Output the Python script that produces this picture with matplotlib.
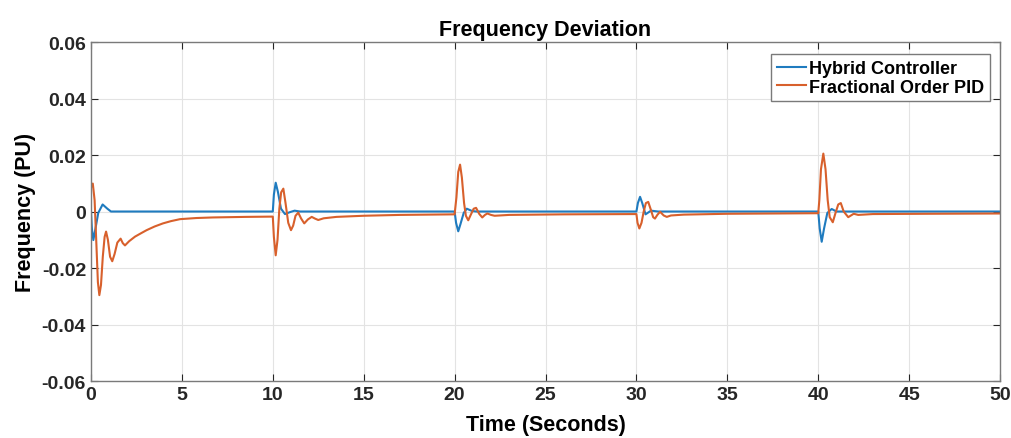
import matplotlib.pyplot as plt

# Hybrid controller response (time in s, deviation in PU)
t_hybrid = [0, 0.05, 0.13, 0.22, 0.4, 0.64, 0.9, 1.1,
            10.0, 10.06, 10.16, 10.28, 10.45, 10.67, 10.95, 11.2, 11.5,
            20.0, 20.08, 20.2, 20.32, 20.5, 20.67, 20.95, 21.2,
            30.0, 30.08, 30.2, 30.32, 30.5, 30.8, 31.2,
            40.0, 40.08, 40.19, 40.32, 40.5, 40.74, 41.0, 41.3, 50.0]
f_hybrid = [0, -0.006, -0.0101, -0.007, -0.0005, 0.0025, 0.001, 0,
            0, 0.006, 0.0102, 0.007, 0.001, -0.0009, -0.0002, 0.0003, 0,
            0, -0.004, -0.007, -0.0045, -0.0005, 0.001, 0.0002, 0,
            0, 0.003, 0.0052, 0.003, -0.001, 0.0003, 0,
            0, -0.006, -0.0107, -0.006, -0.0005, 0.0009, 0, 0, 0]

# Fractional order PID response
t_fopid = [0, 0.1, 0.2, 0.3, 0.38, 0.46, 0.55, 0.65, 0.75, 0.83, 0.93, 1.05,
           1.17, 1.3, 1.45, 1.63, 1.75, 1.87, 2.1, 2.42, 2.75, 3.06, 3.5,
           3.96, 4.4, 4.9, 5.8, 6.7, 8.5, 10.0,
           10.06, 10.16, 10.26, 10.36, 10.46, 10.58, 10.7, 10.85, 11.0, 11.12,
           11.25, 11.4, 11.56, 11.73, 11.93, 12.14, 12.32, 12.5, 12.8, 13.5,
           15.0, 17.0, 20.0,
           20.1, 20.2, 20.3, 20.4, 20.52, 20.62, 20.75, 20.9, 21.05, 21.18,
           21.35, 21.52, 21.67, 21.8, 22.0, 22.2, 23.0, 26.0, 30.0,
           30.06, 30.16, 30.28, 30.4, 30.52, 30.65, 30.8, 30.92, 31.02, 31.15,
           31.3, 31.5, 31.67, 31.9, 32.6, 35.0, 40.0,
           40.06, 40.15, 40.28, 40.4, 40.52, 40.63, 40.8, 40.95, 41.1, 41.24,
           41.4, 41.65, 41.95, 42.2, 43.0, 46.0, 50.0]
f_fopid = [0.0085, 0.0099, 0.004, -0.012, -0.025, -0.0296, -0.026, -0.016,
           -0.009, -0.0071, -0.01, -0.016, -0.0176, -0.015, -0.011, -0.0096,
           -0.0112, -0.012, -0.0105, -0.0089, -0.0077, -0.0066, -0.0053,
           -0.0042, -0.0034, -0.0027, -0.0023, -0.0021, -0.0019, -0.0018,
           -0.009, -0.0155, -0.01, 0.001, 0.0068, 0.0081, 0.003, -0.004,
           -0.0066, -0.005, -0.0015, -0.0004, -0.0025, -0.0042, -0.0028,
           -0.0019, -0.0025, -0.003, -0.0024, -0.0019, -0.0015, -0.0012, -0.001,
           0.005, 0.014, 0.0166, 0.012, 0.003, -0.0015, -0.0031, -0.001, 0.001,
           0.0013, -0.0008, -0.0021, -0.0012, -0.0007, -0.0012, -0.0015,
           -0.0012, -0.001, -0.0009,
           -0.004, -0.006, -0.004, 0.0, 0.003, 0.0034, 0.0005, -0.002, -0.0025,
           -0.0012, -0.0001, -0.0014, -0.0019, -0.0014, -0.0011, -0.0008,
           -0.0006,
           0.004, 0.015, 0.0205, 0.015, 0.004, -0.002, -0.0038, -0.0005,
           0.0025, 0.003, 0.0, -0.002, -0.0008, -0.0012, -0.0009, -0.0008,
           -0.0007]

x_ticks = [0, 5, 10, 15, 20, 25, 30, 35, 40, 45, 50]
y_ticks = [-0.06, -0.04, -0.02, 0, 0.02, 0.04, 0.06]
y_tick_labels = ['-0.06', '-0.04', '-0.02', '0', '0.02', '0.04', '0.06']

plt.rcParams['font.family'] = ['Liberation Sans', 'DejaVu Sans']
plt.rcParams['font.weight'] = 'bold'

fig = plt.figure(figsize=(10.12, 4.39), dpi=100)
ax = fig.add_axes([0.0899, 0.1298, 0.8983, 0.7722])

ax.plot(t_hybrid, f_hybrid, color='#1f7bbf', linewidth=1.5, label='Hybrid Controller')
ax.plot(t_fopid, f_fopid, color='#d8602c', linewidth=1.5, label='Fractional Order PID')

ax.set_xlim(0, 50)
ax.set_ylim(-0.06, 0.06)
ax.set_xticks(x_ticks)
ax.set_yticks(y_ticks)
ax.set_yticklabels(y_tick_labels)
ax.tick_params(direction='in', length=5, width=0.8, labelsize=14,
               colors='#262626', top=True, right=True)
for lbl in ax.get_xticklabels() + ax.get_yticklabels():
    lbl.set_fontweight('bold')
ax.grid(True, color='#e3e3e3', linewidth=0.8)
for s in ax.spines.values():
    s.set_color('#7a7a7a')
    s.set_linewidth(1.0)

ax.set_title('Frequency Deviation', fontsize=15.5, fontweight='bold', pad=5)
ax.set_xlabel('Time (Seconds)', fontsize=15.5, fontweight='bold', labelpad=8)
ax.set_ylabel('Frequency (PU)', fontsize=15.5, fontweight='bold', labelpad=4)

leg = ax.legend(loc='upper right', fontsize=13, handlelength=1.6,
                handletextpad=0.2, borderpad=0.3, labelspacing=0.1,
                fancybox=False, framealpha=1, bbox_to_anchor=(0.9985, 0.99))
leg.get_frame().set_edgecolor('#7a7a7a')
leg.get_frame().set_linewidth(1.0)
for txt in leg.get_texts():
    txt.set_fontweight('bold')

fig.savefig('out.png', dpi=100)
